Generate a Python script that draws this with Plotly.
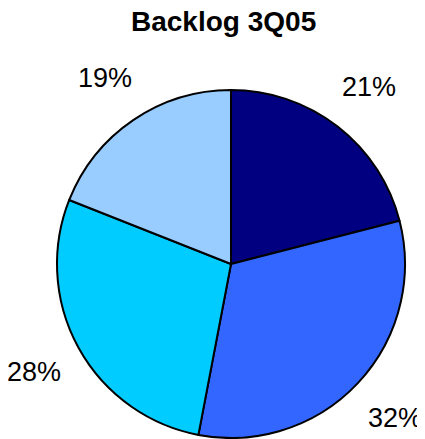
import math
import plotly.graph_objects as go

categories = ["A", "B", "C", "D"]
values = [21, 32, 28, 19]
label_texts = ["21%", "32%", "28%", "19%"]
colors = ["#000080", "#3366FF", "#00CCFF", "#99CCFF"]
title_text = "Backlog 3Q05"

OFF = 8  # default page body margin
W, H = 425 - OFF, 439 - OFF
cx, cy, r = 231 - OFF, 264 - OFF, 174  # pie centre/radius in figure pixels

fig = go.Figure(go.Pie(
    labels=categories,
    values=values,
    sort=False,
    direction="clockwise",
    rotation=0,
    marker=dict(colors=colors, line=dict(color="black", width=2)),
    textinfo="none",
    hoverinfo="skip",
    showlegend=False,
    domain=dict(x=[(cx - r) / W, (cx + r) / W],
                y=[max(0, 1 - (cy + r) / H), 1 - (cy - r) / H]),
))

total = sum(values)
cum = 0
annotations = []
for v, t in zip(values, label_texts):
    mid = (cum + v / 2) / total * 2 * math.pi
    cum += v
    k = 1.29
    px = cx + k * r * math.sin(mid)
    py = cy - k * r * math.cos(mid)
    annotations.append(dict(
        x=px / W, y=1 - py / H, xref="paper", yref="paper",
        text=t, showarrow=False, xanchor="center", yanchor="middle",
        font=dict(family="Liberation Sans, Arial", size=27, color="black"),
    ))

annotations.append(dict(
    x=(223.5 - OFF) / W, y=1 - (22 - OFF) / H, xref="paper", yref="paper",
    text="<b>" + title_text + "</b>", showarrow=False,
    xanchor="center", yanchor="middle",
    font=dict(family="Liberation Sans, Arial", size=28, color="black"),
))

fig.update_layout(
    width=W, height=H,
    margin=dict(l=0, r=0, t=0, b=0),
    paper_bgcolor="white", plot_bgcolor="white",
    annotations=annotations,
)

fig.write_html("out.html")
